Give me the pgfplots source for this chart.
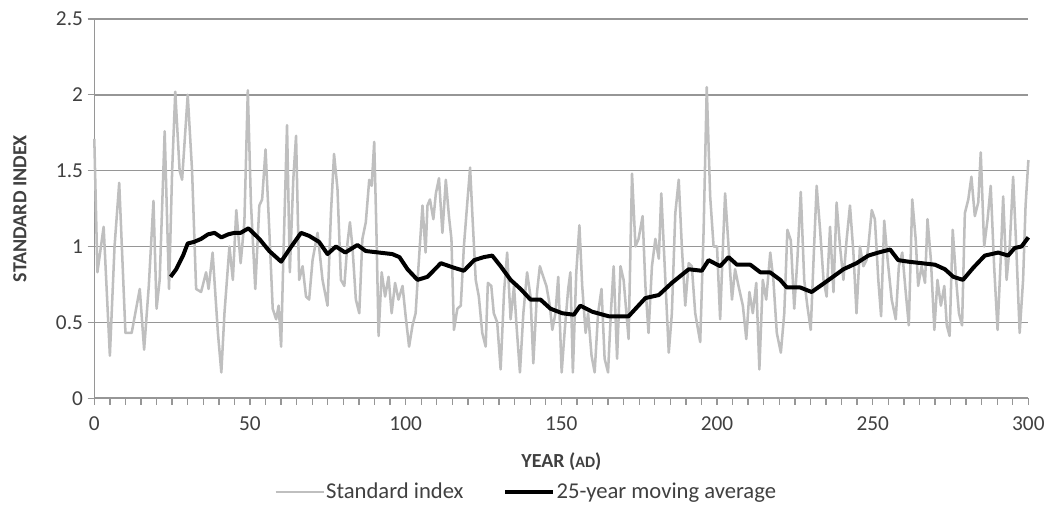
\documentclass[border=0pt]{standalone}
\usepackage{fontspec}
\setmainfont{Carlito}
\usepackage{pgfplots}
\pgfplotsset{compat=1.18}
\definecolor{sgray}{RGB}{191,191,191}
\definecolor{gridgray}{RGB}{150,150,150}
\definecolor{txtgray}{RGB}{64,64,64}
\begin{document}
\begin{tikzpicture}
\begin{axis}[name=ax, scale only axis, width=702pt, height=285pt,
  xmin=0, xmax=300, ymin=0, ymax=2.5,
  axis x line*=bottom, axis y line*=left,
  xtick={0,50,...,300}, minor xtick={0,5,...,300},
  ytick={0,0.5,1,1.5,2,2.5}, yticklabels={0,0.5,1,1.5,2,2.5},
  ymajorgrids, grid style={gridgray, line width=1.1pt},
  axis line style={gridgray, line width=1.1pt},
  tick style={gridgray, line width=1pt},
  major tick length=5pt, minor tick length=5pt,
  tick align=outside,
  /pgf/number format/assume math mode=true,
  ticklabel style={font=\fontsize{16}{18}\selectfont, text=txtgray},
  xticklabel style={yshift=-5pt},
  xlabel={\textbf{YEAR (\fontsize{12}{14}\selectfont AD\fontsize{15}{18}\selectfont)}},
  ylabel={\textbf{STANDARD INDEX}},
  label style={font=\fontsize{15}{18}\selectfont\bfseries, text=txtgray},
  xlabel style={at={(axis description cs:0.5,-0.166)}, anchor=center},
  ylabel style={at={(axis description cs:-0.0796,0.5)}, anchor=center},
  legend style={at={(axis description cs:0.462,-0.247)}, anchor=center,
    legend columns=2, draw=none, fill=none,
    font=\fontsize{17}{19}\selectfont, text=txtgray,
    /tikz/every even column/.append style={column sep=29pt},
    nodes={inner xsep=1pt}},
  legend image code/.code={\draw[#1] (0pt,0pt) -- (36pt,0pt);},
  clip=false,
]
\addplot[sgray, line width=1.9pt, line join=round] coordinates {
(0,1.71)(1,0.83)(3,1.13)(5,0.28)(6.5,1.0)(8,1.42)(10,0.43)(12,0.43)(14.6,0.72)(16,0.32)(17.5,0.74)(19,1.30)(20,0.59)(21,0.78)(22.6,1.76)(24,0.72)(25,1.5)(26,2.02)(27.4,1.5)(28.2,1.44)(30,2.0)(31.4,1.5)(32.7,0.72)(34.3,0.70)(35.9,0.83)(36.7,0.72)(38,0.96)(39.7,0.43)(40.8,0.17)(41.8,0.56)(43.4,1.0)(44.5,0.78)(45.6,1.24)(47,0.89)(48.2,1.16)(49.3,2.03)
(50.3,1.29)(51.7,0.72)(53,1.27)(53.9,1.31)(55,1.64)(56.2,1.11)(57.3,0.59)(58.4,0.52)(59.2,0.61)(60,0.34)(60.7,0.91)(61.9,1.80)(62.8,0.83)(63.9,1.44)(64.8,1.73)(65.8,0.78)(66.9,0.87)(68,0.67)(69,0.65)(70.1,0.91)(71.7,1.09)(73.3,0.78)(74.9,0.61)(76,1.22)(77,1.61)(78.1,1.38)(79.2,0.78)(80.3,0.74)(81.3,1.02)(82.1,1.16)(82.9,1.0)(84,0.65)(85.1,0.56)(86.1,1.05)(87.2,1.16)(88.3,1.44)(89.1,1.40)(89.9,1.69)(90.6,1.11)(91.3,0.41)(92.3,0.83)(93.4,0.67)(94.5,0.80)(95.5,0.56)(96.6,0.76)(97.7,0.65)(99,0.74)
(100,0.54)(101.1,0.34)(102.2,0.48)(103.2,0.56)(104,0.83)(105.4,1.27)(106.4,0.96)(107,1.27)(107.8,1.31)(108.9,1.18)(109.7,1.35)(110.7,1.45)(111.8,1.09)(112.9,1.44)(113.9,1.20)(114.7,1.05)(115.5,0.45)(116.6,0.59)(117.7,0.61)(118.7,1.0)(119.8,1.29)(120.7,1.52)(121.4,1.22)(122.5,0.78)(123.5,0.67)(124.6,0.43)(125.7,0.34)(126.4,0.76)(127.5,0.74)(128.3,0.56)(129.4,0.50)(130.5,0.19)(131.6,0.70)(132.6,0.96)(133.7,0.52)(134.8,0.74)(135.6,0.48)(136.7,0.17)(137.8,0.56)(139,0.83)(140.1,0.67)(141,0.23)(142.2,0.70)(143.1,0.87)(144.2,0.80)(145.2,0.74)(146.3,0.61)
(147.1,0.45)(148.1,0.56)(149,0.80)(150.1,0.17)(151.1,0.45)(152.2,0.72)(152.9,0.83)(153.7,0.17)(154.8,0.83)(155.8,1.14)(156.7,0.74)(157.8,0.43)(158.6,0.56)(159.7,0.28)(160.7,0.17)(161.8,0.56)(162.9,0.72)(163.9,0.26)(165,0.17)(165.9,0.56)(166.8,0.87)(167.9,0.26)(169,0.87)(170,0.78)(171.6,0.39)(172.7,1.48)(173.8,1.0)(174.8,1.05)(176.1,1.2)(177,0.74)(178,0.43)(179.1,0.87)(180.2,1.05)(181.3,0.92)(182.1,1.35)(183.2,0.87)(184.5,0.30)(185.5,0.56)(186.6,1.22)(187.7,1.44)(188.7,1.0)(189.8,0.61)(190.9,0.89)(191.9,0.87)(193,0.56)(194.6,0.37)(195.7,1.11)(196.7,2.05)(197.8,1.33)(198.9,1.0)
(200,1.0)(201,0.52)(201.9,1.0)(202.6,1.35)(203.7,1.0)(204.8,0.65)(205.8,0.85)(206.9,0.74)(208.3,0.61)(209.4,0.39)(210.4,0.70)(211.5,0.56)(212.6,0.76)(213.6,0.19)(214.7,0.78)(215.8,0.65)(217.1,0.96)(218.1,0.78)(219.2,0.43)(220.5,0.30)(221.6,0.56)(222.6,1.11)(223.7,1.04)(224.8,0.59)(225.8,0.91)(226.9,1.36)(228,0.78)(229,0.61)(230.1,0.45)(231,0.91)(232,1.40)(233.1,1.11)(234.2,0.78)(235.2,0.67)(236.3,1.13)(237.4,0.70)(238.4,1.29)(239.5,1.0)(240.6,0.78)(241.6,1.04)(242.7,1.27)(243.8,0.96)(244.8,0.56)(245.9,1.0)(247,0.87)(248,0.91)
(248.6,1.0)(249.7,1.24)(250.7,1.18)(251.8,0.78)(252.7,0.54)(253.7,1.17)(254.8,0.91)(256.1,0.65)(257.4,0.52)(258.4,0.87)(259.5,0.96)(260.6,0.70)(261.6,0.48)(262.7,1.31)(263.8,1.05)(264.6,0.74)(265.7,0.87)(266.8,0.76)(267.6,1.18)(268.7,0.91)(269.8,0.45)(270.8,0.78)(271.9,0.61)(273,0.74)(273.8,0.48)(274.7,0.41)(275.7,1.11)(276.8,0.78)(277.7,0.56)(278.7,0.48)(279.6,1.22)(280.7,1.31)(281.7,1.46)(282.8,1.2)(283.9,1.29)(284.7,1.62)(285.8,1.0)(286.9,1.18)(287.9,1.40)(289,0.87)(290.1,0.45)(291.1,0.91)(291.9,1.33)(293,0.78)(294,1.0)(295.1,1.46)(296.1,1.0)(297.2,0.43)(298.3,0.78)(299.1,1.27)(300,1.57)
};
\addlegendentry{Standard index}
\addplot[black, line width=3pt, line join=round] coordinates {
(24.5,0.80)(26.3,0.85)(28.5,0.94)(30,1.02)(32,1.03)(34.3,1.05)(36.5,1.08)(38.6,1.09)(40.8,1.06)(43,1.08)(45,1.09)(47,1.09)(49.5,1.12)(51,1.09)(53,1.05)(56.2,0.97)(60,0.90)(62.6,0.98)(66.4,1.09)(69,1.07)(72.2,1.03)(74.9,0.95)(77.6,1.0)(80.6,0.96)(84.5,1.01)(87.2,0.97)(91.5,0.96)(95.7,0.95)(98,0.93)(100.6,0.85)(103.8,0.78)(107,0.80)(111.3,0.89)(115.5,0.86)(118.7,0.84)(122,0.91)(125.1,0.93)(127.8,0.94)(130.5,0.87)(133.7,0.78)(136.9,0.72)(140.1,0.65)(143.3,0.65)(146.5,0.59)(150.3,0.56)(154,0.55)(156.1,0.61)(159.9,0.57)(165.2,0.54)(171.6,0.54)(177,0.66)(181.3,0.68)(185.5,0.76)(190.9,0.85)(195.1,0.84)(197.3,0.91)(201,0.87)(203.7,0.93)(206.4,0.88)(210.7,0.88)(213.9,0.83)(217,0.83)(220.3,0.78)(222.4,0.73)(226.7,0.73)(230.4,0.70)(235.2,0.77)(240.6,0.85)(244.8,0.89)(248.6,0.94)(251.8,0.96)(255.6,0.98)(258.2,0.91)(261.4,0.90)(265.7,0.89)(270,0.88)(273.2,0.85)(275.9,0.80)(279,0.78)(282.3,0.86)(286,0.94)(290.3,0.96)(293.5,0.94)(295.6,0.99)(297.8,1.0)(300,1.06)
};
\addlegendentry{25-year moving average}
\end{axis}
\path ([xshift=-70.875pt,yshift=-87pt]ax.south west) rectangle ([xshift=715.875pt,yshift=299.25pt]ax.south west);
\end{tikzpicture}
\end{document}
